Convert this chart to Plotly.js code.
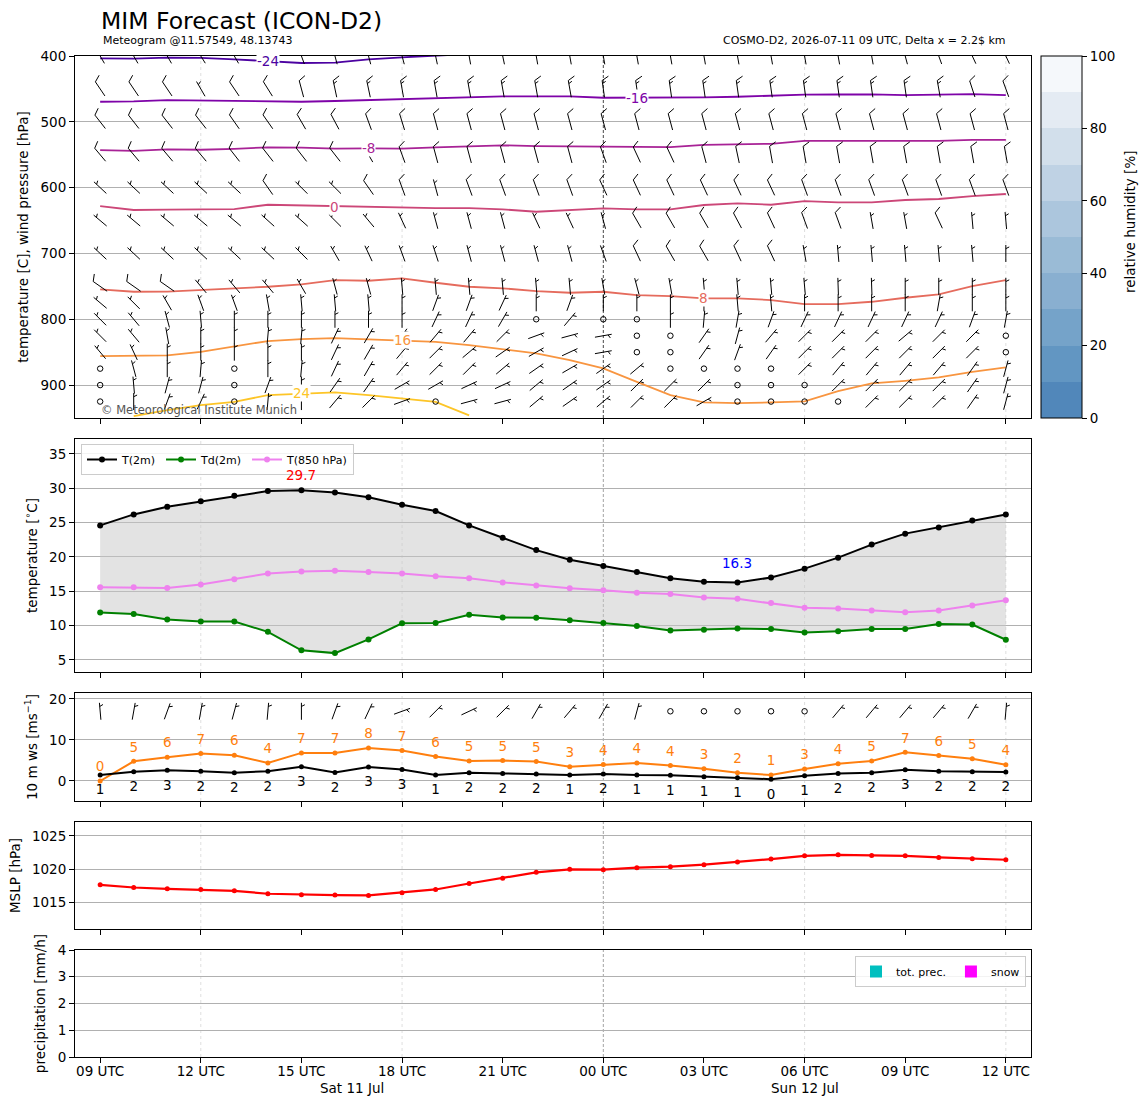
<!DOCTYPE html>
<html><head><meta charset="utf-8">
<script src="https://cdn.plot.ly/plotly-3.0.1.min.js"></script>
<style>body{margin:0;background:#fff}#chart{width:1148px;height:1105px}</style>
</head><body><div id="chart"></div>
<script>
// ---------------- DATA ----------------
const times = ['2026-07-11 09:00','2026-07-11 10:00','2026-07-11 11:00','2026-07-11 12:00','2026-07-11 13:00','2026-07-11 14:00','2026-07-11 15:00','2026-07-11 16:00','2026-07-11 17:00','2026-07-11 18:00','2026-07-11 19:00','2026-07-11 20:00','2026-07-11 21:00','2026-07-11 22:00','2026-07-11 23:00','2026-07-12 00:00','2026-07-12 01:00','2026-07-12 02:00','2026-07-12 03:00','2026-07-12 04:00','2026-07-12 05:00','2026-07-12 06:00','2026-07-12 07:00','2026-07-12 08:00','2026-07-12 09:00','2026-07-12 10:00','2026-07-12 11:00','2026-07-12 12:00'];

const t2m  = [24.6,26.2,27.3,28.1,28.9,29.6,29.7,29.4,28.7,27.6,26.7,24.6,22.8,21.0,19.6,18.7,17.8,16.9,16.4,16.3,17.0,18.3,19.9,21.8,23.4,24.3,25.3,26.2];
const td2m = [11.9,11.7,10.9,10.6,10.6,9.1,6.4,6.0,8.0,10.35,10.4,11.6,11.2,11.15,10.8,10.4,9.95,9.3,9.4,9.6,9.5,9.0,9.2,9.5,9.5,10.25,10.15,7.95];
const t850 = [15.6,15.6,15.5,16.0,16.75,17.6,17.9,18.0,17.8,17.6,17.2,16.9,16.3,15.85,15.45,15.15,14.8,14.6,14.1,13.9,13.3,12.6,12.5,12.2,11.95,12.2,12.95,13.7];

const gust = [0.0,4.8,5.8,6.7,6.3,4.4,6.85,6.85,8.05,7.45,6.0,4.9,5.0,4.75,3.45,4.0,4.4,3.8,3.0,2.0,1.45,2.9,4.2,4.9,7.0,6.2,5.4,3.95];
const wsMean = [1.45,2.25,2.6,2.4,2.0,2.4,3.45,2.1,3.4,2.8,1.45,2.0,1.85,1.7,1.45,1.7,1.45,1.4,1.05,0.8,0.45,1.3,1.8,2.0,2.75,2.4,2.25,2.2];
const sfcDir = [355,10,20,10,15,5,0,20,25,70,45,65,45,30,40,30,15,0,0,0,0,0,40,40,40,40,30,5];
const sfcSpd = [5,5,5,5,5,5,5,5,5,5,5,5,5,5,5,5,5,0,0,0,0,0,5,5,5,5,5,5];

const mslp = [1017.6,1017.2,1017.0,1016.9,1016.7,1016.25,1016.1,1016.05,1016.0,1016.4,1016.9,1017.8,1018.6,1019.5,1019.95,1019.9,1020.2,1020.35,1020.65,1021.05,1021.5,1022.0,1022.15,1022.05,1022.0,1021.75,1021.55,1021.4];

const precipTot  = [0,0,0,0,0,0,0,0,0,0,0,0,0,0,0,0,0,0,0,0,0,0,0,0,0,0,0,0];
const precipSnow = [0,0,0,0,0,0,0,0,0,0,0,0,0,0,0,0,0,0,0,0,0,0,0,0,0,0,0,0];

// isotherms: pressure [hPa] of each isotherm at each hour
const isoLevels = [-24,-16,-8,0,8,16,24];
const isoM24 = [403.5,404,402.5,403,405,408,410.6,410,405,402,400,397,null,null,null,null,null,null,null,null,null,null,null,null,null,null,null,null];
const isoM16 = [469.5,469,467,467.6,468,468.4,469.5,468.4,467,465.3,464.6,463.4,461.2,461.2,461.2,463.4,463.4,463.4,462.8,461.9,460.3,458.8,458.5,458.2,459.3,458.5,457.8,459.3];
const isoM8  = [543,544,542,542.4,541,538.7,539.3,540.8,540.3,540.8,538.8,536.8,535.7,536.8,537.3,537.3,537.8,538.3,535,534,533.4,529.1,529.1,529.1,530,529,527.4,527.4];
const iso0   = [628,634,633.5,633,632.5,626,627,629,629,630,631,631,633,636.6,634,631.5,633,633,626.4,624,626,620.4,622.5,622.4,618.8,617.3,612.8,609.7];
const iso8   = [754.6,758.2,758,755.6,753,750.6,747,740.4,741.5,737.9,744.5,750.6,753,757.1,759.7,758.2,763.2,764.7,768.3,768.3,770.8,776.9,776.9,773.4,767.3,762.2,749.6,740.4];
const iso16  = [855.9,855.9,854.9,849.4,840.7,833.1,830.1,828.6,830.6,832,834.2,839.2,845.3,851.9,862,874.7,895,915.2,926.3,927.4,926.3,924.8,909.1,897.5,893.5,888.4,879.8,873.1];
const iso24  = [null,947,938,930.4,925.4,915.2,912.6,911,915.2,920.3,925.4,946,null,null,null,null,null,null,null,null,null,null,null,null,null,null,null,null];
const isoColors = ['#4c02a1','#7e03a8','#a82296','#cc4778','#e56b5d','#f89540','#fdc527'];
const isoLabelIdx = [5,16,8,7,18,9,6];

// upper-air wind barbs: direction (deg, from) and speed (kt) per pressure level
const barbLevels = [400,450,500,550,600,650,700,750,775,800,825,850,875,900,925];
const dir400 = [330,330,330,328,330,330,340,345,345,345,348,350,348,350,350,350,350,350,350,350,350,350,350,350,345,340,335,335];
const spd400 = [20,20,20,20,20,20,20,20,20,20,20,20,20,20,20,20,20,20,20,20,20,20,20,20,20,20,20,20];
const dir450 = [326,326,326,330,326,328,345,348,348,350,350,350,350,350,350,352,352,352,352,352,352,352,352,352,352,350,342,340];
const spd450 = [10,10,10,5,10,10,10,15,15,15,15,15,15,15,15,15,15,15,15,15,15,15,15,15,15,15,10,10];
const dir500 = [322,322,322,322,325,325,330,332,340,343,345,345,345,345,345,345,345,345,345,345,345,345,345,345,345,345,345,345];
const spd500 = [10,10,10,10,10,10,10,10,10,10,10,10,10,10,10,10,10,10,10,10,10,10,10,10,10,10,10,10];
const dir550 = [320,320,320,320,322,322,322,322,330,340,345,345,345,345,345,340,335,335,345,348,350,350,350,350,350,350,350,350];
const spd550 = [10,10,10,10,10,10,10,10,10,10,10,10,10,10,10,10,10,10,10,10,10,10,10,10,10,10,10,10];
const dir600 = [313,313,313,313,313,325,315,315,325,340,345,340,340,340,340,335,335,335,335,335,335,340,340,340,340,340,340,340];
const spd600 = [5,5,5,5,5,10,5,5,10,10,5,10,10,10,10,10,10,10,10,10,10,10,10,10,10,10,10,10];
const dir650 = [310,310,310,310,310,312,312,315,320,335,345,345,345,335,335,345,330,330,330,332,335,340,340,350,350,335,355,355];
const spd650 = [5,5,5,5,5,5,5,5,5,5,5,5,5,5,5,5,10,10,10,10,10,10,10,5,5,10,5,5];
const dir700 = [313,313,313,313,313,313,315,330,335,340,342,345,345,345,345,340,335,330,330,335,335,350,355,355,355,355,355,0];
const spd700 = [5,5,5,5,5,5,5,5,5,5,5,5,5,5,5,5,10,10,10,10,10,5,5,5,5,5,5,5];
const dir750 = [305,305,305,320,320,320,330,345,345,355,355,355,355,355,355,350,345,350,355,355,355,355,358,358,0,0,0,0];
const spd750 = [10,10,10,5,5,5,5,5,5,5,5,5,5,5,5,5,5,5,5,5,5,5,5,5,5,5,5,5];
const dir775 = [310,315,330,340,340,350,355,355,355,0,20,20,25,0,20,0,0,0,0,355,355,0,0,0,0,10,0,0];
const spd775 = [5,5,5,5,5,5,5,5,5,5,5,5,5,5,5,5,5,5,5,5,5,5,5,5,5,5,5,5];
const dir800 = [315,320,345,355,0,0,0,0,0,0,25,25,30,0,40,0,0,0,5,10,20,25,25,25,25,25,20,10];
const spd800 = [5,5,5,5,5,5,5,5,5,5,5,5,5,0,5,0,0,5,5,5,5,5,5,5,5,5,5,5];
const dir825 = [315,320,350,0,0,5,5,25,30,35,40,40,45,70,75,80,0,0,35,15,40,45,45,45,50,45,45,0];
const spd825 = [5,5,5,5,5,5,5,5,5,5,5,5,5,5,5,5,0,0,5,5,5,5,5,5,5,5,5,0];
const dir850 = [320,335,0,0,0,0,0,25,30,40,45,50,55,60,65,80,0,0,35,20,35,45,45,45,45,45,45,0];
const spd850 = [5,5,5,5,5,5,5,5,5,5,5,5,5,5,5,5,0,0,5,5,5,5,5,5,5,5,5,0];
const dir875 = [0,345,0,5,0,0,5,25,30,40,45,45,50,55,60,55,50,0,0,0,0,45,40,40,40,40,35,15];
const spd875 = [0,5,5,5,0,5,5,5,5,5,5,5,5,5,5,5,5,0,0,0,0,5,5,5,5,5,5,5];
const dir900 = [0,355,15,15,0,20,0,35,35,60,60,65,65,50,55,55,45,45,45,0,0,0,45,45,45,45,35,15];
const spd900 = [0,5,5,5,0,5,5,5,5,5,5,5,5,5,5,5,5,5,5,0,0,0,5,5,5,5,5,5];
const dir925 = [0,0,20,25,0,5,0,40,45,70,0,75,75,50,55,50,45,45,60,0,0,0,0,45,45,45,35,15];
const spd925 = [0,5,5,5,0,5,5,5,5,5,0,5,5,5,5,5,5,5,5,0,0,0,0,5,5,5,5,5];

const rhTicks = [0,20,40,60,80,100];
const rhColors = ['#5187ba','#6296c2','#75a3c9','#89afd0','#9abbd6','#acc6dd','#bfd2e4','#d2dfeb','#e4ebf3','#f5f8fb'];

// ---------------- LAYOUT GEOMETRY ----------------
const FW = 1148, FH = 1105;
const M = {l:75, r:117, t:56, b:48};
const plotW = FW - M.l - M.r, plotH = FH - M.t - M.b;
const pY = py => (FH - M.b - py) / plotH;
const pX = px => (px - M.l) / plotW;
const panelPx = [[56,418],[439,672],[693,801],[822,929],[950,1057]];
const dom = panelPx.map(([t,b]) => [pY(b), pY(t)]);
const XR = [-0.75, 27.75];
const yR1 = [950, 400], yR2 = [3.25, 37.18], yR3 = [-4.88, 21.46], yR4 = [1010.91, 1027.12], yR5 = [0, 4];

function tms(s){const [d,h]=s.split(' ');const [Y,Mo,D]=d.split('-').map(Number);const [hh,mm]=h.split(':').map(Number);return Date.UTC(Y,Mo-1,D,hh,mm);}
const t0 = tms(times[0]);
const xs = times.map(s => (tms(s)-t0)/3.6e6);
const hourOf = s => Number(s.split(' ')[1].split(':')[0]);
const tickIdx = times.map((s,i)=>i).filter(i => hourOf(times[i]) % 3 === 0);
const tickVals = tickIdx.map(i => xs[i]);
const tickText = tickIdx.map(i => String(hourOf(times[i])).padStart(2,'0') + ' UTC');
const gridX = times.map((s,i)=>i).filter(i => hourOf(times[i]) % 6 === 0 && hourOf(times[i]) !== 0).map(i=>xs[i]);
const midX = times.map((s,i)=>i).filter(i => hourOf(times[i]) === 0).map(i=>xs[i]);

const WD = ['Sun','Mon','Tue','Wed','Thu','Fri','Sat'], MN = ['Jan','Feb','Mar','Apr','May','Jun','Jul','Aug','Sep','Oct','Nov','Dec'];
const days = [...new Set(times.map(s => s.split(' ')[0]))];
const dayLabels = days.map(d => {
  const [Y,Mo,D] = d.split('-').map(Number);
  const ds = (Date.UTC(Y,Mo-1,D) - t0)/3.6e6, de = ds + 24;
  const a = Math.max(ds, xs[0]), b = Math.min(de, xs[xs.length-1]);
  const dt = new Date(Date.UTC(Y,Mo-1,D));
  return {x:(a+b)/2, text: WD[dt.getUTCDay()] + ' ' + D + ' ' + MN[Mo-1]};
});

const FONT = 'DejaVu Sans, Verdana, sans-serif';
const traces = [];

// ---------------- BARBS ----------------
const kx = plotW / (XR[1]-XR[0]);
function barbs(bxs, yOf, dirs, spds, ky, yDown) {
  const L = 17, sp = 0.18*L, bh = 0.4*L, bf = 0.2*L;
  const bx=[], by=[], cx=[], cy=[];
  for (let i=0;i<bxs.length;i++) {
    const x0 = bxs[i], y0 = yOf(i), s = Math.round(spds[i]/5)*5;
    if (s === 0) { cx.push(x0); cy.push(y0); continue; }
    const a = dirs[i]*Math.PI/180, ux = Math.sin(a), uy = -Math.cos(a), rx = -uy, ry = ux;
    const P = (dx,dy) => [x0 + dx/kx, y0 + (yDown ? dy : -dy)/ky];
    const tip = [ux*L/2, uy*L/2], tail = [-ux*L/2, -uy*L/2];
    const seg = (p,q) => { const A=P(p[0],p[1]), B=P(q[0],q[1]); bx.push(A[0],B[0],null); by.push(A[1],B[1],null); };
    seg(tail, tip);
    let off = 0; const n10 = Math.floor(s/10), n5 = (s % 10) >= 5;
    for (let k=0;k<n10;k++) { const b=[tip[0]-ux*off, tip[1]-uy*off]; seg(b,[b[0]+rx*bh+ux*bf, b[1]+ry*bh+uy*bf]); off += sp; }
    if (n5) { if (off === 0) off = 1.5*sp*0.8; const b=[tip[0]-ux*off, tip[1]-uy*off]; seg(b,[b[0]+rx*bh/2+ux*bf/2, b[1]+ry*bh/2+uy*bf/2]); }
  }
  return {bx,by,cx,cy};
}

// ---------------- PANEL 1: upper air ----------------
const isoArrays = [isoM24, isoM16, isoM8, iso0, iso8, iso16, iso24];
isoArrays.forEach((arr,k) => traces.push({type:'scatter', mode:'lines', x:xs, y:arr, xaxis:'x', yaxis:'y',
  line:{color:isoColors[k], width:1.8}, showlegend:false, hoverinfo:'skip'}));

const ky1 = (panelPx[0][1]-panelPx[0][0]) / (yR1[0]-yR1[1]);
const dirs = [dir400,dir450,dir500,dir550,dir600,dir650,dir700,dir750,dir775,dir800,dir825,dir850,dir875,dir900,dir925];
const spds = [spd400,spd450,spd500,spd550,spd600,spd650,spd700,spd750,spd775,spd800,spd825,spd850,spd875,spd900,spd925];
let BX=[],BY=[],CX=[],CY=[];
barbLevels.forEach((lev,li) => {
  const r = barbs(xs, () => lev, dirs[li], spds[li], ky1, true);
  BX=BX.concat(r.bx); BY=BY.concat(r.by); CX=CX.concat(r.cx); CY=CY.concat(r.cy);
});
traces.push({type:'scatter', mode:'lines', x:BX, y:BY, xaxis:'x', yaxis:'y', line:{color:'#000', width:1}, showlegend:false, hoverinfo:'skip'});
traces.push({type:'scatter', mode:'markers', x:CX, y:CY, xaxis:'x', yaxis:'y', marker:{symbol:'circle-open', size:5.5, color:'#000', line:{width:1}}, showlegend:false, hoverinfo:'skip'});

const cs = [];
rhColors.forEach((c,k) => { cs.push([k/rhColors.length, c]); cs.push([(k+1)/rhColors.length, c]); });
traces.push({type:'scatter', mode:'markers', x:[-50], y:[500], xaxis:'x', yaxis:'y', showlegend:false, hoverinfo:'skip',
  marker:{color:[50], cmin:rhTicks[0], cmax:rhTicks[rhTicks.length-1], colorscale:cs, showscale:true, size:1,
    colorbar:{x:pX(1041), xanchor:'left', xpad:0, y:dom[0][0], yanchor:'bottom', ypad:0, len:dom[0][1]-dom[0][0], lenmode:'fraction',
      thickness:41, thicknessmode:'pixels', outlinewidth:1, outlinecolor:'#000', tickvals:rhTicks, ticks:'outside', ticklen:5, tickcolor:'#000',
      tickfont:{family:FONT, size:13.5, color:'#000'}}}});

// ---------------- PANEL 2: temperatures ----------------
traces.push({type:'scatter', mode:'lines', x:xs, y:td2m, xaxis:'x2', yaxis:'y2', line:{width:0, color:'rgba(0,0,0,0)'}, showlegend:false, hoverinfo:'skip'});
traces.push({type:'scatter', mode:'lines', x:xs, y:t2m, xaxis:'x2', yaxis:'y2', line:{width:0, color:'rgba(0,0,0,0)'}, fill:'tonexty', fillcolor:'rgba(200,200,200,0.5)', showlegend:false, hoverinfo:'skip'});
traces.push({type:'scatter', mode:'lines+markers', name:'T(2m)', x:xs, y:t2m, xaxis:'x2', yaxis:'y2', line:{color:'#000', width:2}, marker:{size:6, color:'#000'}, legend:'legend'});
traces.push({type:'scatter', mode:'lines+markers', name:'Td(2m)', x:xs, y:td2m, xaxis:'x2', yaxis:'y2', line:{color:'#008000', width:2}, marker:{size:6, color:'#008000'}, legend:'legend'});
traces.push({type:'scatter', mode:'lines+markers', name:'T(850 hPa)', x:xs, y:t850, xaxis:'x2', yaxis:'y2', line:{color:'#ee82ee', width:2}, marker:{size:6, color:'#ee82ee'}, legend:'legend'});

// ---------------- PANEL 3: 10 m wind ----------------
traces.push({type:'scatter', mode:'lines+markers', x:xs, y:gust, xaxis:'x3', yaxis:'y3', line:{color:'#ff7f0e', width:2}, marker:{size:5, color:'#ff7f0e'}, showlegend:false});
traces.push({type:'scatter', mode:'lines+markers', x:xs, y:wsMean, xaxis:'x3', yaxis:'y3', line:{color:'#000', width:2}, marker:{size:5, color:'#000'}, showlegend:false});
traces.push({type:'scatter', mode:'text', x:xs, y:gust.map(v=>v+3.2), text:gust.map(v=>String(Math.round(v))), xaxis:'x3', yaxis:'y3',
  textfont:{family:FONT, size:13.5, color:'#ff7f0e'}, showlegend:false, hoverinfo:'skip', cliponaxis:false});
traces.push({type:'scatter', mode:'text', x:xs, y:wsMean.map(v=>v-3.9), text:wsMean.map(v=>String(Math.round(v))), xaxis:'x3', yaxis:'y3',
  textfont:{family:FONT, size:13.5, color:'#000'}, showlegend:false, hoverinfo:'skip', cliponaxis:false});
const ky3 = (panelPx[2][1]-panelPx[2][0]) / (yR3[1]-yR3[0]);
const sb = barbs(xs, () => 17, sfcDir, sfcSpd, ky3, false);
traces.push({type:'scatter', mode:'lines', x:sb.bx, y:sb.by, xaxis:'x3', yaxis:'y3', line:{color:'#000', width:1}, showlegend:false, hoverinfo:'skip'});
traces.push({type:'scatter', mode:'markers', x:sb.cx, y:sb.cy, xaxis:'x3', yaxis:'y3', marker:{symbol:'circle-open', size:5.5, color:'#000', line:{width:1}}, showlegend:false, hoverinfo:'skip'});

// ---------------- PANEL 4: MSLP ----------------
traces.push({type:'scatter', mode:'lines+markers', x:xs, y:mslp, xaxis:'x4', yaxis:'y4', line:{color:'#ff0000', width:2.2}, marker:{size:5, color:'#ff0000'}, showlegend:false});

// ---------------- PANEL 5: precipitation ----------------
traces.push({type:'bar', name:'tot. prec.', x:xs, y:precipTot, xaxis:'x5', yaxis:'y5', marker:{color:'#00bfbf'}, legend:'legend2'});
traces.push({type:'bar', name:'snow', x:xs, y:precipSnow, xaxis:'x5', yaxis:'y5', marker:{color:'#ff00ff'}, legend:'legend2'});

// ---------------- AXES ----------------
const axFont = {family:FONT, size:13.5, color:'#000'};
function xax(n, showLabels) {
  const a = {domain:[0,1], anchor:'y'+n, range:XR, autorange:false, tickmode:'array', tickvals:tickVals, ticktext:tickText,
    showticklabels:showLabels, ticks:'outside', ticklen:5, tickcolor:'#000', showgrid:false, zeroline:false,
    showline:true, mirror:true, linecolor:'#000', linewidth:1, tickfont:axFont, ticklabelstandoff:-3};
  if (n !== '') a.matches = 'x';
  return a;
}
function yax(n, d, range, tvals, title) {
  return {domain:d, anchor:'x'+n, range:range, autorange:false, tickmode:'array', tickvals:tvals,
    ticks:'outside', ticklen:5, tickcolor:'#000', showgrid:true, gridcolor:'#b0b0b0', gridwidth:1, zeroline:false,
    showline:true, mirror:true, linecolor:'#000', linewidth:1, tickfont:axFont,
    title:{text:title, font:axFont, standoff:8}};
}

const shapes = [];
[['x','y'],['x2','y2'],['x3','y3'],['x4','y4'],['x5','y5']].forEach(([xa,ya],k) => {
  gridX.forEach(h => shapes.push({type:'line', xref:xa, yref:ya+' domain', x0:h, x1:h, y0:0, y1:1, layer:'below', line:{color:'#d6d6d6', width:0.8, dash:'dot'}}));
  midX.forEach(h => shapes.push({type:'line', xref:xa, yref:ya+' domain', x0:h, x1:h, y0:0, y1:1, layer:'below', line:{color: k===0 ? '#333' : '#999', width:0.9, dash:'3px,2px'}}));
});

const annotations = [];
annotations.push({xref:'paper', yref:'paper', x:pX(99), y:pY(21), xanchor:'left', yanchor:'middle', showarrow:false, text:'MIM Forecast (ICON-D2)', font:{family:FONT, size:23.5, color:'#000'}});
annotations.push({xref:'paper', yref:'paper', x:pX(101), y:pY(41), xanchor:'left', yanchor:'middle', showarrow:false, text:'Meteogram @11.57549, 48.13743', font:{family:FONT, size:11, color:'#000'}});
annotations.push({xref:'paper', yref:'paper', x:pX(1008), y:pY(41), xanchor:'right', yanchor:'middle', showarrow:false, text:'COSMO-D2, 2026-07-11 09 UTC, Delta x = 2.2$ km', font:{family:FONT, size:11, color:'#000'}});
annotations.push({xref:'paper', yref:'paper', x:pX(99), y:pY(410), xanchor:'left', yanchor:'middle', showarrow:false, text:'© Meteorological Institute Munich', font:{family:FONT, size:11.5, color:'#555'}});
annotations.push({xref:'paper', yref:'paper', x:pX(1130), y:pY(222), xanchor:'center', yanchor:'middle', showarrow:false, textangle:-90, text:'relative humidity [%]', font:axFont});
isoArrays.forEach((arr,k) => {
  const i = isoLabelIdx[k];
  annotations.push({xref:'x', yref:'y', x:xs[i], y:arr[i], showarrow:false, text:String(isoLevels[k]), bgcolor:'#fff', borderpad:0,
    font:{family:FONT, size:13.5, color:isoColors[k]}});
});
const iMax = t2m.indexOf(Math.max(...t2m)), iMin = t2m.indexOf(Math.min(...t2m));
annotations.push({xref:'x2', yref:'y2', x:xs[iMax], y:t2m[iMax], yshift:15, showarrow:false, text:t2m[iMax].toFixed(1), font:{family:FONT, size:13.5, color:'#ff0000'}});
annotations.push({xref:'x2', yref:'y2', x:xs[iMin], y:t2m[iMin], yshift:19, showarrow:false, text:t2m[iMin].toFixed(1), font:{family:FONT, size:13.5, color:'#0000ff'}});
dayLabels.forEach(d => annotations.push({xref:'x5', yref:'paper', x:d.x, y:pY(1088), yanchor:'middle', showarrow:false, text:d.text, font:axFont}));

const layout = {
  width:FW, height:FH, margin:{l:M.l, r:M.r, t:M.t, b:M.b, autoexpand:false},
  paper_bgcolor:'#fff', plot_bgcolor:'#fff', font:{family:FONT, color:'#000'},
  barmode:'group', hovermode:false,
  xaxis:xax('', false), xaxis2:xax('2', false), xaxis3:xax('3', false), xaxis4:xax('4', false), xaxis5:xax('5', true),
  yaxis: yax('', dom[0], yR1, [400,500,600,700,800,900], 'temperature [C], wind pressure [hPa]'),
  yaxis2: yax('2', dom[1], yR2, [5,10,15,20,25,30,35], 'temperature [<sup>∘</sup>C]'),
  yaxis3: yax('3', dom[2], yR3, [0,10,20], '10 m ws [ms<sup>−1</sup>]'),
  yaxis4: yax('4', dom[3], yR4, [1015,1020,1025], 'MSLP [hPa]'),
  yaxis5: yax('5', dom[4], yR5, [0,1,2,3,4], 'precipitation [mm/h]'),
  legend:{x:pX(81), y:pY(444), xanchor:'left', yanchor:'top', orientation:'h', traceorder:'normal', bgcolor:'rgba(255,255,255,0.85)', bordercolor:'#cccccc', borderwidth:1,
    font:{family:FONT, size:11, color:'#000'}, itemwidth:30},
  legend2:{x:pX(1026), y:pY(956), xanchor:'right', yanchor:'top', orientation:'h', traceorder:'normal', bgcolor:'rgba(255,255,255,0.85)', bordercolor:'#cccccc', borderwidth:1,
    font:{family:FONT, size:11, color:'#000'}, itemwidth:30},
  shapes:shapes, annotations:annotations
};

Plotly.newPlot('chart', traces, layout, {staticPlot:true, displayModeBar:false});
</script></body></html>
